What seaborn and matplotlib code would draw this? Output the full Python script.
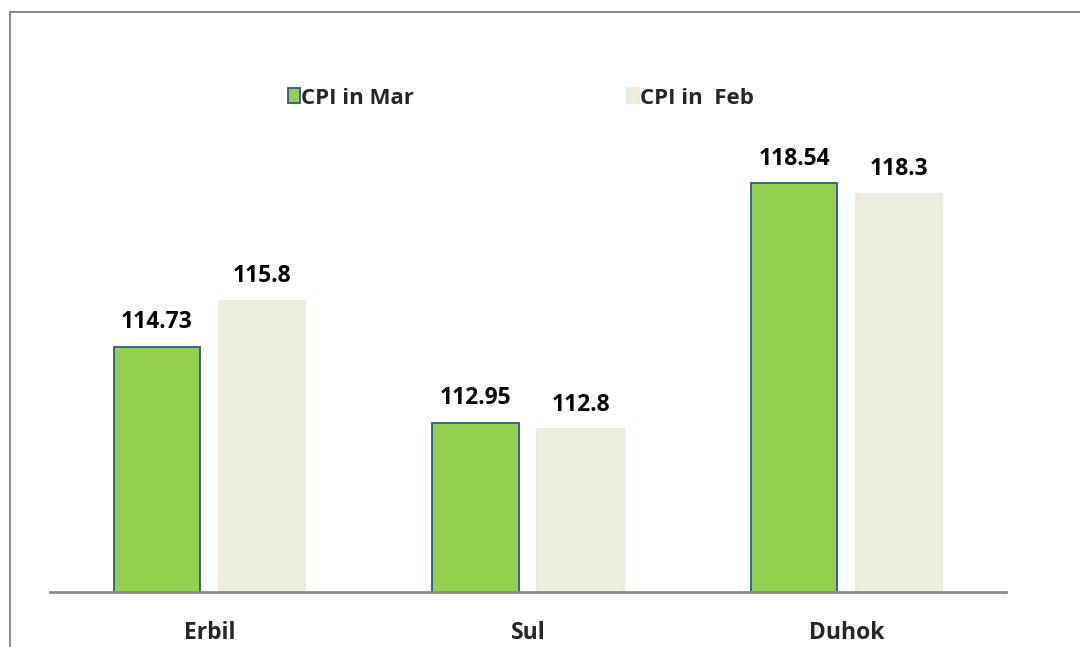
import matplotlib
matplotlib.use("Agg")
import matplotlib.pyplot as plt
import seaborn as sns
import pandas as pd
from matplotlib.lines import Line2D
from matplotlib.patches import Patch

regions = ["Erbil", "Sul", "Duhok"]
series = ["CPI in Mar", "CPI in  Feb"]
cpi_mar = [114.73, 112.95, 118.54]
cpi_feb = [115.8, 112.8, 118.3]
mar_labels = ["114.73", "112.95", "118.54"]
feb_labels = ["115.8", "112.8", "118.3"]

df = pd.DataFrame({
    "region": regions * 2,
    "series": [series[0]] * 3 + [series[1]] * 3,
    "value": cpi_mar + cpi_feb,
})

sns.set_theme(style="white")
plt.rcParams["font.family"] = ["Open Sans", "DejaVu Sans"]

fig = plt.figure(figsize=(10.8, 6.47), dpi=100)
W, H = 1080, 647
ax = fig.add_axes([50 / W, (H - 592) / H, (1006 - 50) / W, (592 - 60) / H])

fills = ["#92D050", "#EBEFDF"]
edges = ["#2F5597", "#FBE5D6"]

sns.barplot(data=df, x="region", y="value", hue="series", hue_order=series,
            order=regions, palette=fills, width=0.66, gap=0.18, ax=ax,
            legend=False, errorbar=None, saturation=1)

for cont, ec, labs in zip(ax.containers, edges, [mar_labels, feb_labels]):
    for p in cont:
        p.set_edgecolor(ec)
        p.set_linewidth(1.3)
    ax.bar_label(cont, labels=labs, padding=9, fontsize=16.5, fontweight="bold",
                 color="black")

ax.set_ylim(109, 121.42)
ax.set_xlim(-0.5, 2.5)
for s in ["top", "right", "left"]:
    ax.spines[s].set_visible(False)
ax.spines["bottom"].set_color("#8C8C8C")
ax.spines["bottom"].set_linewidth(2)
ax.set_yticks([])
ax.set_xlabel("")
ax.set_ylabel("")
ax.tick_params(axis="x", length=0, pad=21, labelsize=16.5)
for t in ax.get_xticklabels():
    t.set_fontweight("bold")

handles = [Patch(facecolor=fills[0], edgecolor=edges[0], linewidth=1.3),
           Patch(facecolor=fills[1], edgecolor=edges[1], linewidth=1.3)]
fig.legend(handles, series, loc="center left", bbox_to_anchor=(288 / W, 1 - 98 / H),
           ncol=2, frameon=False, prop={"weight": "bold", "size": 16},
           handlelength=0.54, handleheight=0.62, handletextpad=0.05,
           columnspacing=9.6, borderaxespad=0, borderpad=0)

# outer chart-area border (left and top)
fig.add_artist(Line2D([9.5 / W, 9.5 / W], [0, 1 - 12 / H], transform=fig.transFigure,
                      color="#8C8C8C", linewidth=1.5))
fig.add_artist(Line2D([9.5 / W, 1], [1 - 12 / H, 1 - 12 / H], transform=fig.transFigure,
                      color="#8C8C8C", linewidth=1.5))

fig.savefig("out.png", dpi=100)
